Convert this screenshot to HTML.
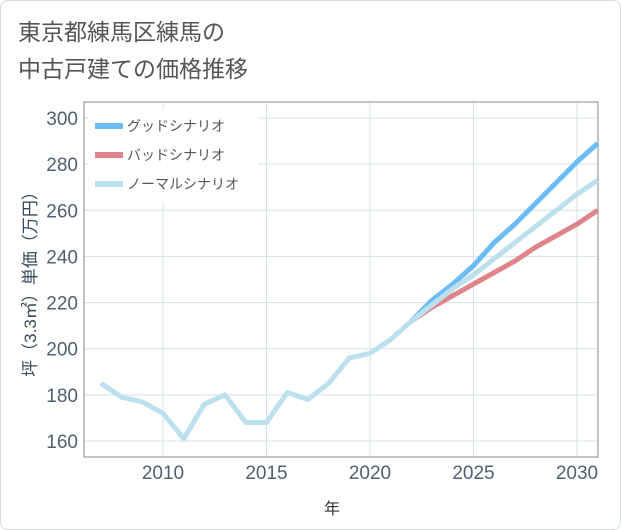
<!DOCTYPE html>
<html><head><meta charset="utf-8"><style>
body{margin:0;background:#fff;}
.card{position:absolute;left:0;top:0;width:619px;height:528px;border:1px solid #d5dbe3;border-radius:8px;background:#fff;}
text{font-family:"Liberation Sans","Noto Sans CJK JP",sans-serif;}
</style></head><body>
<div class="card"></div>
<svg id="chart" width="621" height="530" style="position:absolute;left:0;top:0">
<text x="18" y="40" font-size="23" fill="#555">東京都練馬区練馬の</text>
<text x="18" y="77" font-size="23" fill="#555">中古戸建ての価格推移</text>
<g id="grid"></g><g id="axes"></g><g id="lines"></g><g id="legend"></g>
<text x="332" y="514" font-size="16" fill="#333" text-anchor="middle">年</text>
<text transform="translate(36,280) rotate(-90)" font-size="17" fill="#3a4a5a" text-anchor="middle">坪（3.3㎡）単価（万円）</text>
</svg>
<script>
const years=[2007,2008,2009,2010,2011,2012,2013,2014,2015,2016,2017,2018,2019,2020,2021,2022];
const hist=[185,179,177,172,161,176,180,168,168,181,178,185,196,198,204,212];
const fYears=[2022,2023,2024,2025,2026,2027,2028,2029,2030,2031];
const good=[212,221,228,236,246,254,263,272,281,289];
const bad=[212,218,223,228,233,238,244,249,254,260];
const normal=[212,219,226,232,239,246,253,260,267,273];
const yTicks=[160,180,200,220,240,260,280,300];
const xTicks=[2010,2015,2020,2025,2030];
const L=84,R=598,T=102,B=457;
const x=v=>163+(v-2010)*20.7;
const y=v=>118+(300-v)*(323/140);
const ns="http://www.w3.org/2000/svg";
function mk(p,tag,a){const e=document.createElementNS(ns,tag);for(const k in a)e.setAttribute(k,a[k]);document.getElementById(p).appendChild(e);return e;}
yTicks.forEach(t=>{
 const g=mk('grid','line',{x1:L,x2:R,y1:y(t),y2:y(t),stroke:'#d4e1ea','stroke-width':1});
 
 
 const tx=mk('axes','text',{x:L-6,y:y(t)+7,'font-size':19,fill:'#506070','text-anchor':'end'});tx.textContent=t;
 
 
});
xTicks.forEach(t=>{
 const g=mk('grid','line',{x1:x(t),x2:x(t),y1:T,y2:B,stroke:'#d4e1ea','stroke-width':1});
 
 
 const tx=mk('axes','text',{x:x(t),y:B+22,'font-size':19,fill:'#506070','text-anchor':'middle'});tx.textContent=t;
 
 
});
const fr=mk('axes','rect',{x:L,y:T,width:R-L,height:B-T,fill:'none',stroke:'#888','stroke-width':1});


function line(xs,vs,color,name){
 const p=mk('lines','polyline',{points:xs.map((v,i)=>x(v)+','+y(vs[i])).join(' '),fill:'none',stroke:color,'stroke-width':5,'stroke-linejoin':'round'});
 
 
}
line(fYears,good,'#6cbcf5','good-scenario-line');
line(fYears,bad,'#e0848c','bad-scenario-line');
line(fYears,normal,'#bde0ee','normal-scenario-line');
line(years,hist,'#bde0ee','historical-line');
const lg=mk('legend','rect',{x:88,y:110,width:170,height:92,fill:'#fff'});


[['グッドシナリオ','#6cbcf5'],['バッドシナリオ','#e0848c'],['ノーマルシナリオ','#bde0ee']].forEach((d,i)=>{
 const yy=126+i*29;
 const s=mk('legend','line',{x1:95,x2:123,y1:yy,y2:yy,stroke:d[1],'stroke-width':6});
 
 
 const t=mk('legend','text',{x:127,y:yy+5,'font-size':14,fill:'#555'});t.textContent=d[0];
 
 
});
</script>
</body></html>
